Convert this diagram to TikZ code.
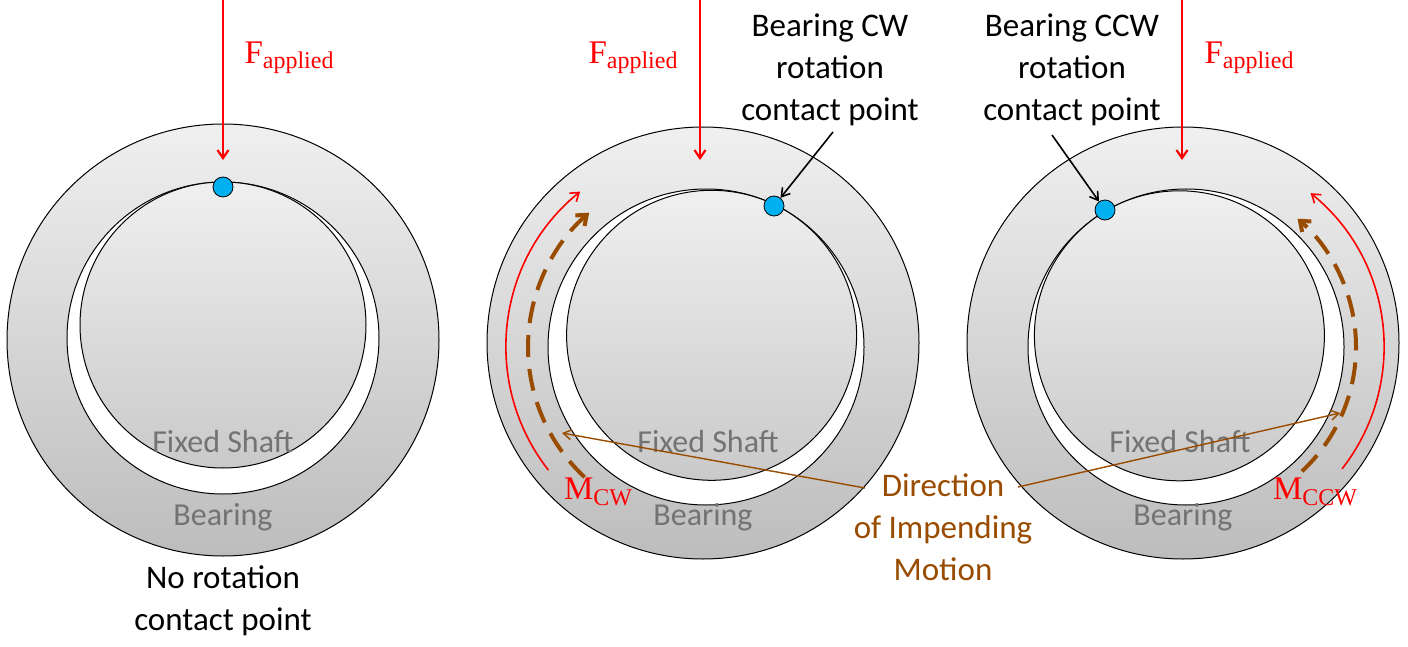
\documentclass[tikz,border=0pt]{standalone}
\usepackage{fontspec}
\setmainfont{Carlito}
\newfontfamily\serf{Liberation Serif}
\usetikzlibrary{arrows.meta}
\definecolor{brn}{RGB}{153,76,0}
\definecolor{dotc}{RGB}{0,176,240}
\newcommand{\subl}[2]{{\serf #1\raisebox{-0.35ex}{\fontsize{24}{26}\selectfont #2}}}
\begin{document}
\begin{tikzpicture}[x=1pt,y=-1pt,
  outer/.style={draw=black,line width=1pt,top color=gray!12,bottom color=gray!52},
  bore/.style={draw=black,line width=1pt,fill=white},
  shaft/.style={draw=black,line width=1pt,top color=gray!12,bottom color=gray!42},
  lbl/.style={text=gray!90!black,font=\fontsize{32}{34}\selectfont},
  txt/.style={font=\fontsize{33}{42}\selectfont,align=center},
  flbl/.style={text=red,font=\fontsize{33}{36}\selectfont},
  force/.style={draw=red,line width=2.2pt,-{Straight Barb[length=8pt,width=11pt]}},
  dotn/.style={circle,draw=black,fill=dotc,minimum size=20pt,inner sep=0pt,line width=0.8pt},
  marc/.style={draw=red,line width=1.6pt,-{Straight Barb[length=8pt,width=11pt]}},
  darc/.style={draw=brn,line width=4pt,dash pattern=on 22pt off 12pt,-{Straight Barb[length=9pt,width=14pt]}},
  thinb/.style={draw=brn,line width=1.4pt,-{Straight Barb[length=8pt,width=10pt]}},
  ptr/.style={draw=black,line width=1.6pt,-{Straight Barb[length=8pt,width=10pt]}}]
\useasboundingbox (0,0) rectangle (1408,647);
% ---- left
\path[outer] (223,340) circle (216);
\path[bore] (223,338) circle (156);
\path[shaft] (223,325) circle (143);
\node[lbl] (fs1) at (223,442) {Fixed Shaft};
\node[lbl] (b1) at (223,517) {Bearing};
\coordinate (f1s) at (223,0); \coordinate (f1e) at (223,160);
\draw[force] (f1s) -- (f1e);
\node[flbl] (fl1) at (289,58) {\subl{F}{applied}};
\node[dotn] (d1) at (223,187) {};
\node[txt] (nr) at (223,601) {No rotation\\contact point};
% ---- middle
\path[outer] (703,343) circle (216);
\path[bore] (706,347) circle (158);
\path[shaft] (711.6,335.3) circle (145);
\node[lbl] (fs2) at (708,442) {Fixed Shaft};
\node[lbl] (b2) at (703,517) {Bearing};
\coordinate (f2s) at (700,0); \coordinate (f2e) at (700,160);
\draw[force] (f2s) -- (f2e);
\node[flbl] (fl2) at (633,58) {\subl{F}{applied}};
\node[dotn] (d2) at (774,206) {};
\draw[marc] (706,347) ++(142:200) arc[start angle=142,end angle=231,radius=200];
\draw[darc] (706,347) ++(133:178) arc[start angle=133,end angle=229,radius=178];
\node[flbl] (mcw) at (598,492) {\subl{M}{CW}};
\node[txt] (cw) at (830,70) {Bearing CW\\rotation\\contact point};
\coordinate (cwa) at (833,132);
\draw[ptr] (cwa) -- (d2);
% ---- right
\path[outer] (1183,343) circle (216);
\path[bore] (1186,347) circle (158);
\path[shaft] (1179.4,335.8) circle (145);
\node[lbl] (fs3) at (1180,442) {Fixed Shaft};
\node[lbl] (b3) at (1183,517) {Bearing};
\coordinate (f3s) at (1182,0); \coordinate (f3e) at (1182,160);
\draw[force] (f3s) -- (f3e);
\node[flbl] (fl3) at (1249,58) {\subl{F}{applied}};
\node[dotn] (d3) at (1105,210) {};
\draw[marc] (1186,347) ++(38:198) arc[start angle=38,end angle=-51,radius=198];
\draw[darc] (1186,347) ++(47:170) arc[start angle=47,end angle=-49,radius=170];
\node[flbl] (mccw) at (1315,492) {\subl{M}{CCW}};
\node[txt] (ccw) at (1072,70) {Bearing CCW\\rotation\\contact point};
\coordinate (ccwa) at (1052,135);
\draw[ptr] (ccwa) -- (d3);
% ---- direction
\node[txt,text=brn] (dir) at (943,527) {Direction\\of Impending\\Motion};
\coordinate (dl) at (865,488); \coordinate (dle) at (562,433);
\coordinate (dr) at (1018,487); \coordinate (dre) at (1340,413);
\draw[thinb] (dl) -- (dle);
\draw[thinb] (dr) -- (dre);
\end{tikzpicture}
\end{document}
